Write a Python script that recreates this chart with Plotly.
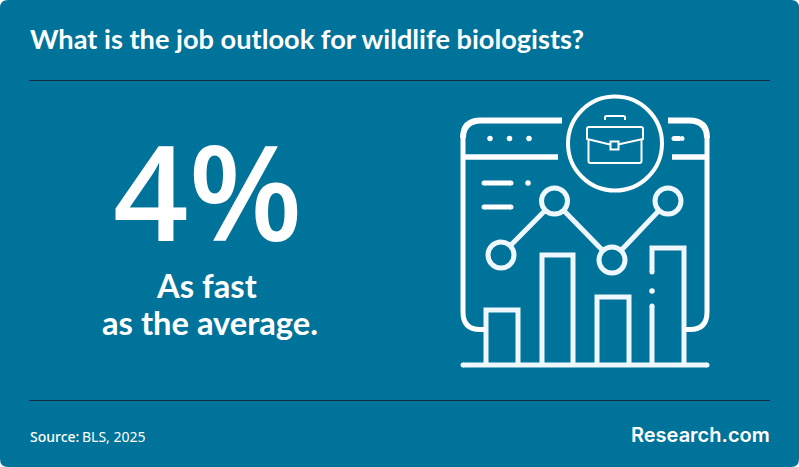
import plotly.graph_objects as go

BG = "#00739a"
RULE = "#0e2f45"
WHITE = "#ffffff"
ICON = "#edf7fd"

title = "What is the job outlook for wildlife biologists?"
big_value = "4%"
caption = ["As fast", "as the average."]
source_label = "Source:"
source_text = "BLS, 2025"
brand = "Research.com"

# Illustrative icon: rising bars and trend line
bar_left = [486, 542, 597, 652]
bar_right = [518, 573, 629, 684]
bar_top = [310, 255, 297, 248]
bar_base = 365
line_x = [501, 554.5, 612, 668]
line_y = [255, 201, 260, 201]

W, H = 799, 467
shapes = []


def stroke(path, color=WHITE, width=5, fill=None):
    shapes.append(dict(type="path", path=path, line=dict(color=color, width=width),
                       fillcolor=fill if fill else "rgba(0,0,0,0)", layer="above"))


def rule(x0, y0, x1, y1, color=WHITE, width=5):
    shapes.append(dict(type="line", x0=x0, y0=y0, x1=x1, y1=y1,
                       line=dict(color=color, width=width), layer="above"))


# card
shapes.append(dict(type="path", layer="below", fillcolor=BG, line=dict(width=0),
                   path=f"M8,0 L{W-8},0 Q{W},0 {W},8 L{W},{H-8} Q{W},{H} {W-8},{H} L8,{H} Q0,{H} 0,{H-8} L0,8 Q0,0 8,0 Z"))
rule(29, 80.5, 770, 80.5, RULE, 1)
rule(29, 400.5, 770, 400.5, RULE, 1)

# window frame
stroke("M562,120.5 L481,120.5 Q463,120.5 463,138", WHITE, 6)
stroke("M668,120.5 L689,120.5 Q707,120.5 707,138", WHITE, 6)
stroke("M463,138 L463,312 Q463,329.5 480,329.5 L486,329.5")
stroke("M707,138 L707,312 Q707,329.5 690,329.5 L684,329.5")
rule(465, 157, 558, 157, WHITE, 5.5)
rule(672, 157, 705, 157, WHITE, 5.5)
stroke("M674,138.5 L680,138.5", WHITE, 5)
stroke("M484,183 L511,183", WHITE, 5)
stroke("M484,207 L511,207", WHITE, 5)

# briefcase badge
shapes.append(dict(type="circle", x0=568, x1=662, y0=96.5, y1=190.5, layer="above",
                   line=dict(color=WHITE, width=4), fillcolor="rgba(0,0,0,0)"))
stroke("M589,127 L641,127 Q643,127 643,129 L643,139 L618,144.5 M610,144.5 L587,139 L587,129 Q587,127 589,127", WHITE, 2)
stroke("M588.5,140 L588.5,161 Q588.5,163 590.5,163 L639.5,163 Q641.5,163 641.5,161 L641.5,140", WHITE, 2)
stroke("M605,120 L605,117 Q605,116 607,116 L623,116 Q625,116 625,117 L625,120", WHITE, 2)
stroke("M610.5,141.5 L618.5,141.5 L618.5,149.5 L610.5,149.5 Z", WHITE, 2)

fig = go.Figure()

# bars (fourth has a broken left edge)
for i, (l, r, t) in enumerate(zip(bar_left, bar_right, bar_top)):
    if i == 3:
        xs = [l, l, None, l, l, r, r]
        ys = [bar_base, 306, None, 272, t, t, bar_base]
    else:
        xs = [l, l, r, r]
        ys = [bar_base, t, t, bar_base]
    fig.add_trace(go.Scatter(x=xs, y=ys, mode="lines", hoverinfo="skip",
                             line=dict(color=ICON, width=5, shape="linear")))
fig.add_trace(go.Scatter(x=[463, 707], y=[bar_base, bar_base], mode="lines", hoverinfo="skip",
                         line=dict(color=ICON, width=5)))

# rounded caps and small dots
fig.add_trace(go.Scatter(x=[463, 707, 484, 511, 484, 511, 674, 682, bar_left[3], bar_left[3]],
                         y=[bar_base, bar_base, 183, 183, 207, 207, 138.5, 138.5, 306, 272],
                         mode="markers", hoverinfo="skip",
                         marker=dict(size=5, color=ICON, line=dict(width=0))))
fig.add_trace(go.Scatter(x=[490, 509.5, 529, 528, bar_left[3]],
                         y=[138.5, 138.5, 138.5, 183, 291],
                         mode="markers", hoverinfo="skip",
                         marker=dict(size=5.5, color=WHITE, line=dict(width=0))))

# trend line
fig.add_trace(go.Scatter(x=line_x, y=line_y, mode="lines+markers", hoverinfo="skip",
                         line=dict(color=ICON, width=5),
                         marker=dict(size=26, color=BG, line=dict(color=ICON, width=5))))

TITLE_FONT = "Lato"
annotations = [
    dict(x=30, y=38, text=f"<b>{title}</b>", xanchor="left", yanchor="middle",
         font=dict(family=TITLE_FONT, size=27.2, color=WHITE)),
    dict(x=208, y=190, text=big_value, xanchor="center", yanchor="middle", height=112,
         font=dict(family="Open Sans", size=132, color=WHITE, weight=600)),
    dict(x=206, y=285, text=f"<b>{caption[0]}</b>", xanchor="center", yanchor="middle", height=36,
         font=dict(family=TITLE_FONT, size=32.7, color=WHITE)),
    dict(x=209.5, y=322, text=f"<b>{caption[1]}</b>", xanchor="center", yanchor="middle", height=36,
         font=dict(family=TITLE_FONT, size=32.7, color=WHITE)),
    dict(x=30, y=436, text=source_label, xanchor="left", yanchor="middle",
         font=dict(family="Noto Sans", size=14, color=WHITE, weight=500)),
    dict(x=82, y=436, text=source_text, xanchor="left", yanchor="middle",
         font=dict(family="Noto Sans", size=14, color=WHITE, weight=400)),
    dict(x=770, y=435, text=brand, xanchor="right", yanchor="middle",
         font=dict(family="Inter", size=20, color=WHITE, weight=600)),
]
for a in annotations:
    a.update(xref="x", yref="y", showarrow=False, borderpad=0, borderwidth=0)

fig.update_layout(
    width=W, height=H, margin=dict(l=0, r=0, t=0, b=0), autosize=False,
    paper_bgcolor=WHITE, plot_bgcolor="rgba(0,0,0,0)", showlegend=False,
    xaxis=dict(range=[0, W], visible=False, fixedrange=True),
    yaxis=dict(range=[H, 0], visible=False, fixedrange=True),
    shapes=shapes, annotations=annotations,
)
fig.write_html("out.html", config=dict(displayModeBar=False),
               default_width=f"{W}px", default_height=f"{H}px",
               post_script="document.body.style.margin='0';")
